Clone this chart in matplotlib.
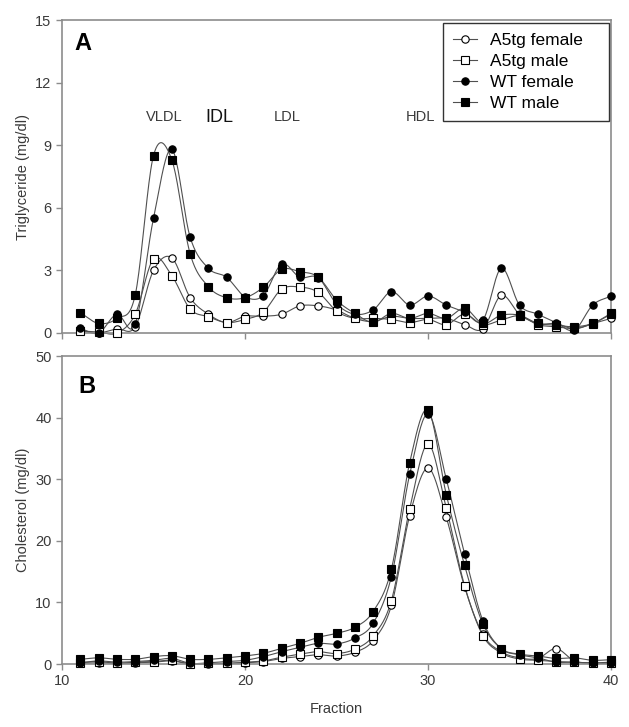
import numpy as np
import matplotlib
matplotlib.use("Agg")
import matplotlib.pyplot as plt
from matplotlib.lines import Line2D

plt.rcParams['font.family'] = ['Liberation Sans', 'DejaVu Sans']

fractions = list(range(11, 41))

# Panel A: Triglyceride (mg/dl)
tg_a5_female = [0.1, 0.0, 0.2, 0.3, 3.0, 3.6, 1.7, 0.9, 0.5, 0.8, 0.8, 0.9, 1.3, 1.3, 1.1,
                0.7, 0.55, 0.8, 0.7, 0.7, 0.7, 0.4, 0.2, 1.8, 0.9, 0.45, 0.45, 0.2, 0.45, 0.7]
tg_a5_male = [0.1, 0.05, 0.0, 0.9, 3.55, 2.75, 1.15, 0.78, 0.5, 0.65, 1.0, 2.1, 2.2, 1.95, 1.05,
              0.7, 0.7, 0.65, 0.5, 0.65, 0.4, 0.9, 0.4, 0.62, 0.82, 0.4, 0.3, 0.22, 0.45, 0.9]
tg_wt_female = [0.22, 0.0, 0.9, 0.43, 5.5, 8.8, 4.6, 3.1, 2.67, 1.74, 1.79, 3.3, 2.67, 2.65, 1.4,
                0.9, 1.1, 1.98, 1.34, 1.77, 1.34, 1.0, 0.62, 3.1, 1.34, 0.9, 0.5, 0.14, 1.34, 1.77]
tg_wt_male = [0.97, 0.46, 0.7, 1.82, 8.5, 8.3, 3.8, 2.22, 1.69, 1.69, 2.19, 3.05, 2.94, 2.68, 1.58,
              0.94, 0.51, 0.94, 0.7, 0.94, 0.7, 1.18, 0.46, 0.85, 0.85, 0.46, 0.38, 0.3, 0.46, 0.94]

# Panel B: Cholesterol (mg/dl)
ch_a5_female = [0.1, 0.2, 0.1, 0.2, 0.3, 0.5, 0.0, 0.0, 0.1, 0.2, 0.4, 0.9, 1.2, 1.5, 1.3,
                1.9, 3.8, 9.5, 24.1, 31.8, 23.8, 12.5, 4.8, 2.0, 1.0, 0.9, 2.5, 0.5, 0.2, 0.3]
ch_a5_male = [0.2, 0.4, 0.1, 0.3, 0.4, 0.6, 0.0, 0.1, 0.1, 0.3, 0.5, 1.1, 1.6, 2.0, 1.7,
              2.4, 4.55, 10.3, 25.2, 35.7, 25.3, 12.7, 4.6, 1.8, 0.8, 0.6, 0.4, 0.3, 0.1, 0.2]
ch_wt_female = [0.2, 0.5, 0.3, 0.4, 0.6, 0.9, 0.1, 0.2, 0.4, 0.6, 1.2, 2.0, 2.7, 3.35, 3.25,
                4.2, 6.6, 14.2, 30.8, 40.6, 30.0, 17.9, 7.0, 2.5, 1.5, 1.0, 0.3, 0.3, 0.1, 0.1]
ch_wt_male = [0.76, 1.0, 0.76, 0.76, 1.2, 1.35, 0.76, 0.76, 1.0, 1.3, 1.73, 2.54, 3.35, 4.33, 4.98,
              5.95, 8.5, 15.4, 32.7, 41.2, 27.5, 16.0, 6.5, 2.5, 1.6, 1.3, 0.9, 1.0, 0.6, 0.7]

series_names = ["A5tg female", "A5tg male", "WT female", "WT male"]
lipo_labels = ["VLDL", "IDL", "LDL", "HDL"]
lipo_x = [15.6, 18.6, 22.3, 29.6]


def smooth_curve(x, y, n=20):
    """Catmull-Rom spline through the data points (display only)."""
    x = np.asarray(x, float)
    y = np.asarray(y, float)
    m = len(x)
    dy = np.zeros(m)
    dy[1:-1] = (y[2:] - y[:-2]) / (x[2:] - x[:-2])
    dy[0] = (y[1] - y[0]) / (x[1] - x[0])
    dy[-1] = (y[-1] - y[-2]) / (x[-1] - x[-2])
    xs, ys = [], []
    for i in range(m - 1):
        h = x[i + 1] - x[i]
        t = np.linspace(0, 1, n, endpoint=False)
        h00 = 2 * t ** 3 - 3 * t ** 2 + 1
        h10 = t ** 3 - 2 * t ** 2 + t
        h01 = -2 * t ** 3 + 3 * t ** 2
        h11 = t ** 3 - t ** 2
        xs.append(x[i] + t * h)
        ys.append(h00 * y[i] + h10 * h * dy[i] + h01 * y[i + 1] + h11 * h * dy[i + 1])
    xs.append([x[-1]])
    ys.append([y[-1]])
    return np.concatenate(xs), np.concatenate(ys)


styles = [
    dict(marker='o', mfc='white', mec='black'),
    dict(marker='s', mfc='white', mec='black'),
    dict(marker='o', mfc='black', mec='black'),
    dict(marker='s', mfc='black', mec='black'),
]

fig = plt.figure(figsize=(6.29, 7.27), dpi=100)
ax1 = fig.add_axes([62 / 629, 1 - 333 / 727, 549 / 629, 313 / 727])
ax2 = fig.add_axes([62 / 629, 1 - 664 / 727, 549 / 629, 308 / 727])

spine_col = '#8c8c8c'
line_col = '#505050'
text_col = '#3a3a3a'


def draw(ax, data):
    for vals, st in zip(data, styles):
        sx, sy = smooth_curve(fractions, vals)
        ax.plot(sx, sy, color=line_col, lw=0.8, zorder=2, clip_on=False)
    for vals, st in zip(data, styles):
        ax.plot(fractions, vals, ls='none', ms=5.3, mew=0.8, zorder=3, clip_on=False, **st)
    ax.set_xlim(10, 40)
    for s in ax.spines.values():
        s.set_color(spine_col)
        s.set_linewidth(1.2)
    ax.tick_params(direction='out', length=4, color=spine_col, labelsize=10.5,
                   labelcolor=text_col, width=1)


draw(ax1, [tg_a5_female, tg_a5_male, tg_wt_female, tg_wt_male])
draw(ax2, [ch_a5_female, ch_a5_male, ch_wt_female, ch_wt_male])

ax1.set_ylim(0, 15)
ax1.set_yticks([0, 3, 6, 9, 12, 15])
ax1.set_xticks([10, 20, 30, 40])
ax1.set_xticklabels([])
ax1.set_ylabel("Triglyceride (mg/dl)", fontsize=10.5, color=text_col, labelpad=4)

ax2.set_ylim(0, 50)
ax2.set_yticks([0, 10, 20, 30, 40, 50])
ax2.set_xticks([10, 20, 30, 40])
ax2.set_xlabel("Fraction", fontsize=10.5, color=text_col, labelpad=10)
ax2.set_ylabel("Cholesterol (mg/dl)", fontsize=10.5, color=text_col, labelpad=4)

ax1.text(0.023, 0.925, "A", transform=ax1.transAxes, fontsize=17, fontweight='bold', va='center')
ax2.text(0.03, 0.9, "B", transform=ax2.transAxes, fontsize=17, fontweight='bold', va='center')

for lab, xv in zip(lipo_labels, lipo_x):
    if lab == "IDL":
        ax1.text(xv, 10.35, lab, ha='center', va='center', fontsize=13, color='#111111')
    else:
        ax1.text(xv, 10.35, lab, ha='center', va='center', fontsize=10.5, color=text_col)

handles = [Line2D([0], [0], color=line_col, lw=0.8, ms=5.3, mew=0.8, **st) for st in styles]
leg = ax1.legend(handles, series_names, loc='upper left',
                 bbox_to_anchor=(0.6934, 0.6677, 0.3035, 0.3237), mode='expand',
                 frameon=True, fancybox=False, fontsize=12.5, handlelength=1.35,
                 borderpad=0.6, labelspacing=0.33, handletextpad=0.75, borderaxespad=0)
leg.get_frame().set_edgecolor('black')
leg.get_frame().set_linewidth(1.0)

fig.savefig("out.png", dpi=100)
